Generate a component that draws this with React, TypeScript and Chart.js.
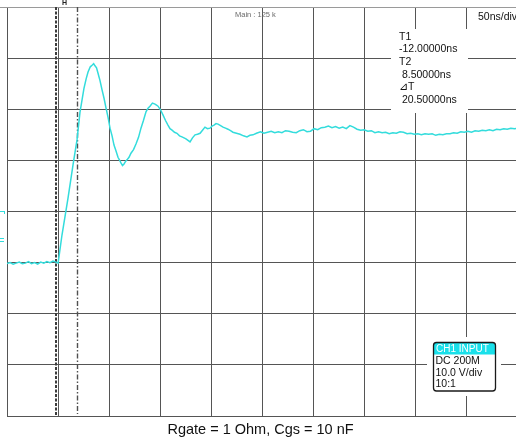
import React, { useEffect, useRef } from "react";
import { Chart, registerables } from "chart.js";

Chart.register(...registerables);

// Captured gate waveform: time (ns, relative to trigger) and voltage (V)
const timeNs = [
  -60, -57, -54, -51, -48, -45, -42, -39, -36, -33, -30, -27, -24, -21, -18, -15, -12, -10,
  -6.2, -0.3, 4.6, 8.5, 11.4, 15.3, 17.5, 19.3, 21.5, 23.2, 24.8, 26.1, 27.6, 29.0, 31.0,
  33.0, 35.0, 36.9, 38.9, 40.8, 42.8, 44.7, 46.6, 48.6, 50.0, 51.5, 53.0, 54.5, 56.0, 57.4,
  59.4, 61.3, 63.8, 66.2, 68.7, 71.1, 73.5, 76.0, 78.0, 79.9, 82.3, 84.8, 86.3, 87.8, 90.2,
  92.6, 95.1, 97.5, 99.5, 101.5, 103.9, 106.3, 108.8, 111.2, 113.2, 115.1, 117.1, 119.1,
  121.5, 124.0, 126.4, 128.9, 131.3, 133.7, 136.1, 138.6, 140.6, 142.6, 144.5, 146.5, 149.0,
  151.4, 153.8, 156.2, 158.7, 161.1, 164.5, 168.0, 171.4, 174.8, 177.7, 180.7, 184.1,
  188, 191.5, 195, 198.5, 202, 205.5, 209, 212.5, 216, 219.5, 223, 226.5, 230, 233.5, 237,
  240.5, 244, 247.5, 251, 254.5, 258, 261.5, 265, 268.5, 272, 275.5, 279, 282.5, 286, 289.5,
  293, 296.5, 300, 303.5, 307, 310.5, 314, 317.5, 321, 324.5, 328, 331.5, 335, 338.5, 342,
  345.5, 349, 352.5, 356, 359.5, 363, 366.5, 370, 373.5, 377, 380.5, 384, 387.5, 391, 394.5,
  398, 401.5, 405, 408.5, 412, 415.5, 419, 422.5, 426, 429.5, 433, 436.5, 440,
];

const volts = [
  -10.2, -10.0, -10.3, -10.1, -9.9, -10.2, -10.1, -9.8, -10.2, -10.0, -10.3, -9.9, -10.1, -9.8, -10.0, -9.7, -9.9, -10.1,
  -4.6, 2.6, 9.1, 14.0, 19.4, 24.1, 26.0, 27.3, 28.3, 28.6, 28.9, 28.5, 28.1, 27.1, 25.6,
  23.8, 22.1, 20.2, 18.4, 16.3, 14.8, 13.0, 11.9, 10.6, 10.1, 9.5, 9.0, 9.3, 9.8, 10.1,
  10.6, 11.4, 12.1, 13.2, 14.5, 16.3, 17.8, 19.5, 20.2, 20.6, 21.2, 21.0, 20.8, 20.6, 19.9,
  18.9, 17.8, 16.9, 16.2, 15.9, 15.5, 15.3, 14.8, 14.6, 14.4, 14.2, 13.9, 13.6,
  14.4, 15.0, 15.1, 15.3, 15.9, 16.5, 16.2, 16.3, 16.7, 16.9, 17.2, 17.1, 16.8,
  16.5, 16.3, 16.1, 15.8, 15.5, 15.3, 15.1, 14.8, 14.6, 14.9, 15.0, 15.3,
  15.6, 15.3, 15.5, 15.7, 15.4, 15.6, 15.4, 15.8, 15.7, 15.5, 15.4, 15.8, 16.0, 15.6, 15.7,
  16.2, 16.0, 16.4, 16.5, 16.7, 16.4, 16.6, 16.3, 16.5, 16.2, 16.8, 16.5, 16.1, 15.9, 16.0,
  15.7, 15.8, 15.4, 15.6, 15.4, 15.5, 15.2, 15.4, 15.3, 15.6, 15.5, 15.2, 15.3, 15.1, 15.2,
  15.0, 15.2, 15.1, 15.2, 14.9, 15.1, 15.0, 15.2, 15.2, 15.4, 15.3, 15.6, 15.5, 15.7, 15.5,
  15.8, 15.7, 15.9, 15.8, 16.0, 15.8, 16.1, 16.0, 16.2, 16.1, 16.3, 16.2, 16.3,
];

// 10 horizontal divisions of 50 ns, 8 vertical divisions of 10 V
const xDivisionsNs = [-60, -10, 40, 90, 140, 190, 240, 290, 340, 390, 440];
const yDivisionsV = [-40, -30, -20, -10, 0, 10, 20, 30, 40];

const cursorT1Ns = -12;
const cursorT2Ns = 8.5;
const cursorReadout = ["T1", "-12.00000ns", "T2", " 8.50000ns", "\u22BFT", " 20.50000ns"];
const channelTitle = "CH1 INPUT";
const channelReadout = ["DC 200M", "10.0 V/div", "10:1"];
const timebaseLabel = "50ns/div";
const mainLabel = "Main : 125 k";
const captionText = "Rgate = 1 Ohm, Cgs = 10 nF";

const TRACE = "#33dcdc";
const GRID = "#555555";
const UI_FONT = '"Liberation Sans", Arial, sans-serif';

const scopeOverlay = {
  id: "scopeOverlay",
  beforeDatasetsDraw(chart: any) {
    const { ctx, chartArea: a, scales } = chart;
    const xs = scales.x;
    ctx.save();

    // extend the top frame line to the canvas edge
    ctx.strokeStyle = "#9a9a9a";
    ctx.lineWidth = 1;
    ctx.beginPath();
    ctx.moveTo(0, a.top + 0.5);
    ctx.lineTo(a.left, a.top + 0.5);
    ctx.stroke();

    // clear grid behind the readouts
    ctx.fillStyle = "#ffffff";
    ctx.fillRect(391, 29, 77, 84);
    ctx.fillRect(427, 337, 74, 59);

    // trigger position marker
    ctx.fillStyle = "#222";
    ctx.font = "bold 7px " + UI_FONT;
    ctx.textAlign = "center";
    ctx.textBaseline = "middle";
    ctx.fillText("H", 64.5, 3);

    // channel ground / level markers on the left edge
    ctx.strokeStyle = TRACE;
    ctx.lineWidth = 1;
    ctx.beginPath();
    ctx.moveTo(0, 211.5);
    ctx.lineTo(5, 211.5);
    ctx.moveTo(4.5, 211.5);
    ctx.lineTo(4.5, 214);
    ctx.moveTo(0, 238.5);
    ctx.lineTo(4, 238.5);
    ctx.moveTo(0, 241.5);
    ctx.lineTo(4, 241.5);
    ctx.stroke();

    // time cursors
    const c1 = Math.round(xs.getPixelForValue(cursorT1Ns));
    ctx.strokeStyle = "#3c3c3c";
    ctx.lineWidth = 2;
    ctx.setLineDash([3, 1.5]);
    ctx.beginPath();
    ctx.moveTo(c1, a.top);
    ctx.lineTo(c1, a.bottom);
    ctx.stroke();

    const c2 = Math.round(xs.getPixelForValue(cursorT2Ns)) + 0.5;
    ctx.strokeStyle = "#505050";
    ctx.lineWidth = 1.4;
    ctx.setLineDash([5, 2, 1.5, 2]);
    ctx.beginPath();
    ctx.moveTo(c2, a.top);
    ctx.lineTo(c2, a.bottom - 2);
    ctx.stroke();
    ctx.setLineDash([]);

    // top labels
    ctx.textAlign = "left";
    ctx.fillStyle = "#6a6a6a";
    ctx.font = "7.5px " + UI_FONT;
    ctx.fillText(mainLabel, 235, 15);

    ctx.fillStyle = "#111";
    ctx.font = "10.5px " + UI_FONT;
    ctx.fillText(timebaseLabel, 478, 17);

    // cursor readout
    ctx.font = "10.5px " + UI_FONT;
    cursorReadout.forEach((line, i) => {
      ctx.fillText(line, 399, 37 + i * 12.6);
    });

    // channel info box
    const bx = 433.5, by = 342.5, bw = 62, bh = 48.5, r = 3;
    ctx.fillStyle = "#19e0ea";
    ctx.beginPath();
    ctx.roundRect(bx, by, bw, 12, [r, r, 0, 0]);
    ctx.fill();
    ctx.strokeStyle = "#1a1a1a";
    ctx.lineWidth = 1.3;
    ctx.beginPath();
    ctx.roundRect(bx, by, bw, bh, r);
    ctx.stroke();
    ctx.fillStyle = "#ffffff";
    ctx.font = "10px " + UI_FONT;
    ctx.fillText(channelTitle, bx + 2.5, by + 6.5);
    ctx.fillStyle = "#111";
    ctx.font = "10.5px " + UI_FONT;
    channelReadout.forEach((line, i) => {
      ctx.fillText(line, bx + 2, 361 + i * 11.8);
    });

    ctx.restore();
  },
  afterDraw(chart: any) {
    const { ctx } = chart;
    ctx.save();
    ctx.fillStyle = "#111";
    ctx.font = "14.5px " + UI_FONT;
    ctx.textAlign = "center";
    ctx.textBaseline = "middle";
    ctx.fillText(captionText, 260.5, 430);
    ctx.restore();
  },
};

export default function App() {
  const canvasRef = useRef<HTMLCanvasElement | null>(null);

  useEffect(() => {
    document.body.style.margin = "0";
    const canvas = canvasRef.current;
    if (!canvas) return;
    const points = timeNs.map((t, i) => ({ x: t, y: volts[i] }));

    const chart = new Chart(canvas, {
      type: "line",
      data: {
        datasets: [
          {
            data: points,
            borderColor: TRACE,
            borderWidth: 1.5,
            pointRadius: 0,
            tension: 0,
            fill: false,
          },
        ],
      },
      options: {
        animation: false,
        responsive: false,
        devicePixelRatio: 1,
        layout: { padding: { left: 7, top: 7, right: 12, bottom: 27 } },
        plugins: {
          legend: { display: false },
          tooltip: { enabled: false },
          title: { display: false },
        },
        scales: {
          x: {
            type: "linear",
            min: xDivisionsNs[0],
            max: xDivisionsNs[xDivisionsNs.length - 1],
            afterBuildTicks: (scale: any) => {
              scale.ticks = xDivisionsNs.map((v) => ({ value: v }));
            },
            ticks: { display: false },
            grid: { color: GRID, lineWidth: 1, drawTicks: false },
            border: { display: false },
          },
          y: {
            type: "linear",
            min: yDivisionsV[0],
            max: yDivisionsV[yDivisionsV.length - 1],
            afterBuildTicks: (scale: any) => {
              scale.ticks = yDivisionsV.map((v) => ({ value: v }));
            },
            ticks: { display: false },
            grid: {
              color: (c: any) => (c.tick && c.tick.value === yDivisionsV[yDivisionsV.length - 1] ? "#9a9a9a" : GRID),
              lineWidth: 1,
              drawTicks: false,
            },
            border: { display: false },
          },
        },
      },
      plugins: [scopeOverlay],
    });

    return () => chart.destroy();
  }, []);

  return (
    <div style={{ width: 516, height: 443, overflow: "hidden", position: "relative", background: "#fff" }}>
      <canvas ref={canvasRef} width={530} height={443} style={{ width: 530, height: 443, display: "block" }} />
    </div>
  );
}
